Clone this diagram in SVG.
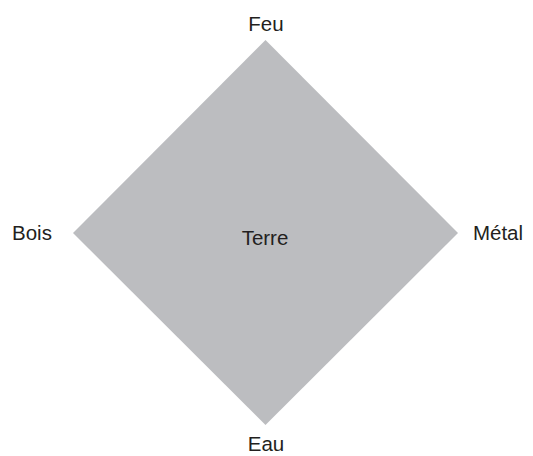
<svg xmlns="http://www.w3.org/2000/svg" width="533" height="456" viewBox="0 0 533 456">
<style>
text{font-family:"Liberation Sans","DejaVu Sans",sans-serif;font-size:20.5px;fill:#231f20;text-anchor:middle}
</style>
<rect width="533" height="456" fill="#fff"/>
<g id="diamond"><polygon points="265.5,40 458,233 265.5,425 73,233" fill="#bcbdc0"/></g>
<g id="connectors"></g>
<g id="feu"><text x="266" y="31">Feu</text></g>
<g id="bois"><text x="32" y="240">Bois</text></g>
<g id="metal"><text x="498" y="240">Métal</text></g>
<g id="terre"><text x="265" y="245">Terre</text></g>
<g id="eau"><text x="266" y="451">Eau</text></g>
</svg>
